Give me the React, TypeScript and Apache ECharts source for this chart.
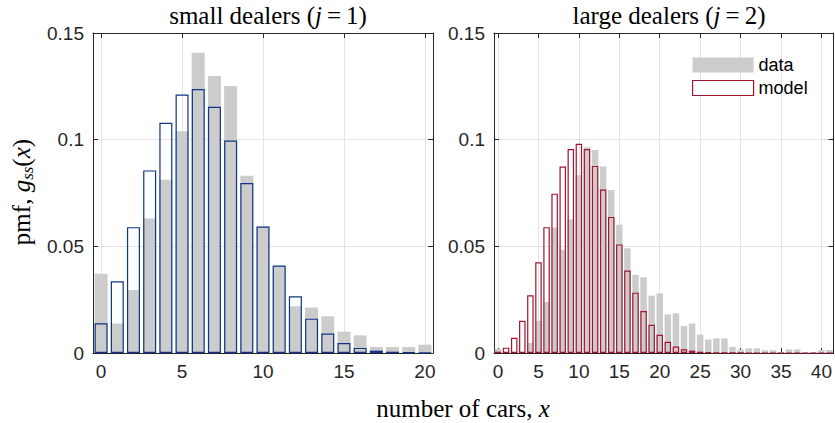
import React, { useEffect, useRef } from 'react';
import * as echarts from 'echarts';

// number of cars, x
const smallX = [0, 1, 2, 3, 4, 5, 6, 7, 8, 9, 10, 11, 12, 13, 14, 15, 16, 17, 18, 19, 20];
const smallData = [0.0372, 0.0138, 0.0295, 0.063, 0.0812, 0.104, 0.1408, 0.1298, 0.1251, 0.0831, 0.0593, 0.0408, 0.0219, 0.0213, 0.0172, 0.0100, 0.0083, 0.0028, 0.0028, 0.0028, 0.0039];
const smallModel = [0.0139, 0.0336, 0.059, 0.0856, 0.1079, 0.1212, 0.1237, 0.1154, 0.0996, 0.0797, 0.0593, 0.041, 0.0266, 0.0161, 0.0091, 0.0047, 0.0024, 0.0011, 0.0006, 0.0003, 0.0002];

const largeX = [0, 1, 2, 3, 4, 5, 6, 7, 8, 9, 10, 11, 12, 13, 14, 15, 16, 17, 18, 19, 20, 21, 22, 23, 24, 25, 26, 27, 28, 29, 30, 31, 32, 33, 34, 35, 36, 37, 38, 39, 40, 41];
const largeData = [0.002, 0.0005, 0.0005, 0.0005, 0.0047, 0.0151, 0.0239, 0.0588, 0.0484, 0.0626, 0.0833, 0.0964, 0.0951, 0.0874, 0.0764, 0.0601, 0.0491, 0.0366, 0.0355, 0.0269, 0.028, 0.0181, 0.0186, 0.0126, 0.0138, 0.0086, 0.0063, 0.0069, 0.0069, 0.0028, 0.0017, 0.0022, 0.0022, 0.0013, 0.0013, 0.0005, 0.0017, 0.0017, 0.0002, 0.0003, 0.0014, 0.0014];
const largeModel = [0.0006, 0.0025, 0.0071, 0.0151, 0.0271, 0.0425, 0.059, 0.0747, 0.0874, 0.0956, 0.0981, 0.0956, 0.0877, 0.0766, 0.0638, 0.0509, 0.0387, 0.0283, 0.0197, 0.0132, 0.0085, 0.0053, 0.003, 0.0017, 0.0011, 0.0006, 0.0003, 0.0002, 0.0001, 0.0001, 0.0001, 0, 0, 0, 0, 0, 0, 0, 0, 0, 0, 0];

const yTicks = [0, 0.05, 0.1, 0.15];
const smallXRange = [-0.5, 20.5];
const largeXRange = [-0.5, 41.5];

const GRAY = '#cccccc';
const BLUE = '#0f3588';
const RED = '#a4132f';
const AXIS = '#262626';
const GRID = '#e3e3e3';
const SANS = "'Liberation Sans', Arial, Helvetica, sans-serif";
const SERIF = "'Liberation Serif', 'Times New Roman', serif";
const TFS = 25;

function xAxes(gridIndex: number, range: number[]) {
  const fmt = (v: number) => (Math.abs(v % 5) < 1e-9 ? String(v) : '');
  return [
    {
      type: 'value', gridIndex, position: 'bottom', min: range[0], max: range[1],
      splitNumber: 4, minInterval: 5, maxInterval: 5,
      axisLine: { show: true, onZero: false, lineStyle: { color: AXIS, width: 1 } },
      axisTick: { show: true, inside: true, length: 5, lineStyle: { color: AXIS } },
      axisLabel: { formatter: fmt, color: AXIS, fontSize: 19, fontFamily: SANS, margin: 9, showMinLabel: false, showMaxLabel: false },
      splitLine: { show: true, lineStyle: { color: GRID, width: 1 } },
    },
    {
      type: 'value', gridIndex, position: 'top', min: range[0], max: range[1],
      splitNumber: 4, minInterval: 5, maxInterval: 5,
      axisLine: { show: true, onZero: false, lineStyle: { color: AXIS, width: 1 } },
      axisTick: { show: true, inside: true, length: 5, lineStyle: { color: AXIS } },
      axisLabel: { show: false },
      splitLine: { show: false },
    },
  ];
}

function yAxes(gridIndex: number) {
  return [
    {
      type: 'value', gridIndex, position: 'left', min: yTicks[0], max: yTicks[yTicks.length - 1], interval: 0.05,
      axisLine: { show: true, onZero: false, lineStyle: { color: AXIS, width: 1 } },
      axisTick: { show: true, inside: true, length: 5, lineStyle: { color: AXIS } },
      axisLabel: { color: AXIS, fontSize: 19, fontFamily: SANS, margin: 9 },
      splitLine: { show: true, lineStyle: { color: GRID, width: 1 } },
    },
    {
      type: 'value', gridIndex, position: 'right', min: yTicks[0], max: yTicks[yTicks.length - 1], interval: 0.05,
      axisLine: { show: true, onZero: false, lineStyle: { color: AXIS, width: 1 } },
      axisTick: { show: true, inside: true, length: 5, lineStyle: { color: AXIS } },
      axisLabel: { show: false },
      splitLine: { show: false },
    },
  ];
}

const titleRich = {
  it: { fontStyle: 'italic', fontSize: TFS, fontFamily: SERIF },
  eq: { fontSize: TFS, fontFamily: SERIF, padding: [0, 5, 0, 5] },
};

export default function App() {
  const ref = useRef<HTMLDivElement>(null);
  useEffect(() => {
    if (!ref.current) return;
    const chart = echarts.init(ref.current, undefined, { renderer: 'svg' });
    const option: any = {
      animation: false,
      backgroundColor: '#ffffff',
      grid: [
        { left: 93, top: 33, width: 340, height: 320 },
        { left: 494, top: 33, width: 340, height: 320 },
      ],
      xAxis: [...xAxes(0, smallXRange), ...xAxes(1, largeXRange)],
      yAxis: [...yAxes(0), ...yAxes(1)],
      legend: {
        data: [
          { name: 'data', itemStyle: { color: GRAY } },
          { name: 'model', itemStyle: { color: '#ffffff', borderColor: RED, borderWidth: 1.2 } },
        ],
        orient: 'vertical', left: 692, top: 56, itemWidth: 61, itemHeight: 15, itemGap: 5,
        padding: 0, icon: 'rect', selectedMode: false,
        textStyle: { fontSize: 18, color: '#000', fontFamily: SANS },
      },
      series: [
        {
          type: 'bar', name: 'dataSmall', xAxisIndex: 0, yAxisIndex: 0,
          data: smallX.map((x, i) => [x, smallData[i]]), barWidth: 13, barGap: '-100%',
          itemStyle: { color: GRAY },
        },
        {
          type: 'bar', name: 'modelSmall', xAxisIndex: 0, yAxisIndex: 0,
          data: smallX.map((x, i) => [x, smallModel[i]]), barWidth: 13, barGap: '-100%',
          itemStyle: { color: 'rgba(0,0,0,0)', borderColor: BLUE, borderWidth: 1.2 },
        },
        {
          type: 'bar', name: 'data', xAxisIndex: 2, yAxisIndex: 2,
          data: largeX.map((x, i) => [x, largeData[i]]), barWidth: 6.5, barGap: '-100%',
          itemStyle: { color: GRAY },
        },
        {
          type: 'bar', name: 'model', xAxisIndex: 2, yAxisIndex: 2,
          data: largeX.map((x, i) => [x, largeModel[i]]), barWidth: 6.5, barGap: '-100%',
          itemStyle: { color: 'rgba(0,0,0,0)', borderColor: RED, borderWidth: 1.2 },
        },
      ],
      graphic: [
        {
          type: 'text', x: 268, y: 15,
          style: {
            text: 'small dealers ({it|j}{eq|=}1)', fontSize: TFS, fontFamily: SERIF, fill: '#000',
            align: 'center', verticalAlign: 'middle', rich: titleRich,
          },
        },
        {
          type: 'text', x: 669, y: 15,
          style: {
            text: 'large dealers ({it|j}{eq|=}2)', fontSize: TFS, fontFamily: SERIF, fill: '#000',
            align: 'center', verticalAlign: 'middle', rich: titleRich,
          },
        },
        {
          type: 'text', x: 463, y: 408,
          style: {
            text: 'number of cars, {it|x}', fontSize: TFS, fontFamily: SERIF, fill: '#000',
            align: 'center', verticalAlign: 'middle', rich: titleRich,
          },
        },
        {
          type: 'text', x: 21, y: 192, rotation: Math.PI / 2,
          style: {
            text: 'pmf, {it|g}{sub|ss}({it|x})', fontSize: TFS, fontFamily: SERIF, fill: '#000',
            align: 'center', verticalAlign: 'middle', lineHeight: 30,
            rich: {
              it: { fontStyle: 'italic', fontSize: TFS, fontFamily: SERIF, lineHeight: 30 },
              sub: { fontStyle: 'italic', fontSize: 17, fontFamily: SERIF, lineHeight: 17, verticalAlign: 'bottom' },
            },
          },
        },
      ],
    };
    chart.setOption(option);
    return () => chart.dispose();
  }, []);
  return <div ref={ref} style={{ position: 'absolute', left: 0, top: 0, width: 835, height: 423 }} />;
}
